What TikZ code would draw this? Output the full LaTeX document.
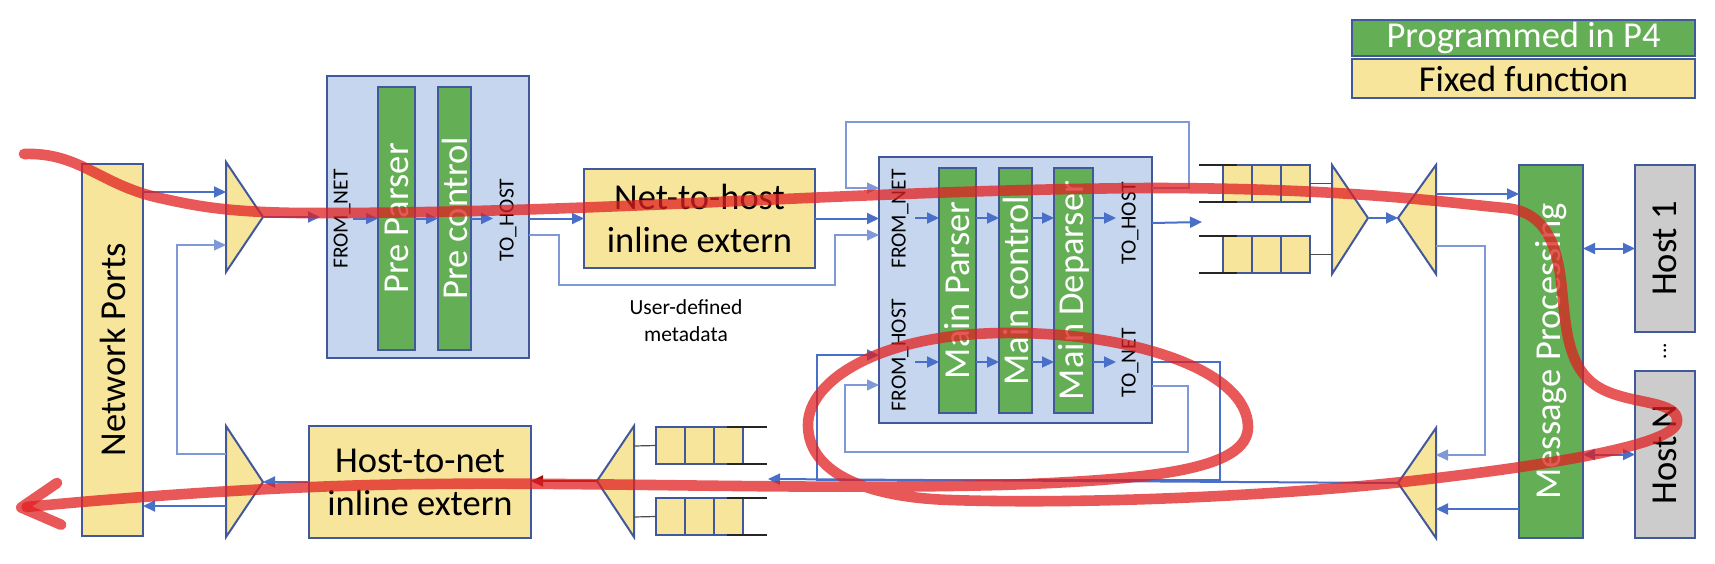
\documentclass[tikz,border=0pt]{standalone}
\usepackage{fontspec}
\setmainfont{Carlito}
\usetikzlibrary{arrows.meta,calc}
\definecolor{yel}{HTML}{F8E59C}
\definecolor{grn}{HTML}{64AE55}
\definecolor{lblue}{HTML}{C5D6EE}
\definecolor{gry}{HTML}{CCCCCC}
\definecolor{bord}{HTML}{41599B}
\definecolor{cblue}{HTML}{4A6FC8}
\definecolor{cthin}{HTML}{7F98D8}
\definecolor{redp}{HTML}{E02020}
\definecolor{dred}{HTML}{9A0E0E}
\begin{document}
\begin{tikzpicture}[x=0.5pt,y=-0.5pt,
  box/.style={draw=bord,line width=1pt,inner sep=0pt,outer sep=0pt},
  yelbox/.style={box,fill=yel},
  grnbox/.style={box,fill=grn},
  bluebox/.style={box,fill=lblue},
  graybox/.style={box,fill=gry},
  qcell/.style={yelbox,minimum width=14.5pt,minimum height=18.5pt},
  tri/.style={draw=bord,fill=yel,line width=1pt,line join=miter},
  big/.style={font=\fontsize{18.25}{21.5}\selectfont,align=center,inner sep=0pt},
  small/.style={font=\fontsize{10.75}{13.5}\selectfont,align=center,inner sep=0pt},
  wtxt/.style={big,text=white,rotate=90},
  conn/.style={draw=cblue,line width=1pt},
  thinconn/.style={draw=cthin,line width=0.6pt},
  arr/.style={-{Triangle[length=6pt,width=5.5pt]}},
  dbl/.style={{Triangle[length=6pt,width=5.5pt]}-{Triangle[length=6pt,width=5.5pt]}},
  qline/.style={draw=black!85,line width=0.7pt},
  glink/.style={draw=black!70,line width=0.6pt},
  redpath/.style={draw=redp,draw opacity=0.75,line width=5.3pt,line cap=round,line join=round},
]
\useasboundingbox (0,0) rectangle (1715,563);

% ---------- legend ----------
\node[grnbox,minimum width=171.5pt,minimum height=18pt] (leg1) at (1523.5,38) {};
\node[big,text=white] (leg1t) at (leg1) {Programmed in P4};
\node[yelbox,minimum width=171.5pt,minimum height=19.5pt] (leg2) at (1523.5,78.5) {};
\node[big] (leg2t) at (leg2) {Fixed function};

% ---------- boxes ----------
\node[yelbox,minimum width=30.5pt,minimum height=186pt] (np) at (112.5,350) {};
\node[big,rotate=90] (npt) at (np) {Network Ports};

\node[bluebox,minimum width=101pt,minimum height=141pt] (pre) at (428,217) {};
\node[grnbox,minimum width=18.5pt,minimum height=131.5pt] (preparser) at (396.5,218.5) {};
\node[grnbox,minimum width=16.5pt,minimum height=131.5pt] (precontrol) at (454.5,218.5) {};
\node[wtxt] (preparsert) at (preparser) {Pre Parser};
\node[wtxt] (precontrolt) at (precontrol) {Pre control};
\node[small,rotate=90] (prefn) at (342,219) {FROM\_NET};
\node[small,rotate=90] (preth) at (508,220) {TO\_HOST};

\node[yelbox,minimum width=115.5pt,minimum height=49.5pt] (n2h) at (699.5,218.5) {};
\node[big] (n2ht) at (n2h) {Net-to-host\\inline extern};
\node[yelbox,minimum width=111pt,minimum height=56pt] (h2n) at (420,482) {};
\node[big] (h2nt) at (h2n) {Host-to-net\\inline extern};
\node[small] (meta) at (686,321) {User-defined\\metadata};

\node[bluebox,minimum width=136.5pt,minimum height=133pt] (main) at (1015.5,290) {};
\node[grnbox,minimum width=18.5pt,minimum height=122.5pt] (mparser) at (957.5,290.5) {};
\node[grnbox,minimum width=16.5pt,minimum height=122.5pt] (mcontrol) at (1015.5,290.5) {};
\node[grnbox,minimum width=19.5pt,minimum height=122.5pt] (mdeparser) at (1073.5,290.5) {};
\node[wtxt] (mparsert) at (mparser) {Main Parser};
\node[wtxt] (mcontrolt) at (mcontrol) {Main control};
\node[wtxt] (mdeparsert) at (mdeparser) {Main Deparser};
\node[small,rotate=90] (mfn) at (900,219) {FROM\_NET};
\node[small,rotate=90] (mfh) at (900,355) {FROM\_HOST};
\node[small,rotate=90] (mth) at (1130,223) {TO\_HOST};
\node[small,rotate=90] (mtn) at (1130,363) {TO\_NET};

\node[grnbox,minimum width=32pt,minimum height=186.5pt] (mp) at (1551,351.5) {};
\node[wtxt] (mpt) at (mp) {Message Processing};
\node[graybox,minimum width=30pt,minimum height=83.5pt] (host1) at (1665,248.5) {};
\node[big,rotate=90] (host1t) at (host1) {Host 1};
\node[graybox,minimum width=30pt,minimum height=83.5pt] (hostN) at (1665,454.5) {};
\node[big,rotate=90] (hostNt) at (hostN) {Host N};
\node[small,rotate=90] (dots) at (1665,351) {...};

% ---------- queues ----------
\foreach \i in {0,1,2} {
  \node[qcell] (q1-\i) at ({1237.5+29*\i},183.5) {};
  \node[qcell] (q2-\i) at ({1237.5+29*\i},254.5) {};
  \node[qcell] (q3-\i) at ({670.5+29*\i},445.5) {};
  \node[qcell] (q4-\i) at ({670.5+29*\i},516.5) {};
}
\foreach \q in {q1,q2} {
  \draw[qline] ($(\q-0.north west)+(-24,0)$) -- ($(\q-0.north west)+(14,0)$);
  \draw[qline] ($(\q-0.south west)+(-24,0)$) -- ($(\q-0.south west)+(14,0)$);
}
\foreach \q in {q3,q4} {
  \draw[qline] ($(\q-2.north east)+(-16,0)$) -- ($(\q-2.north east)+(24,0)$);
  \draw[qline] ($(\q-2.south east)+(-16,0)$) -- ($(\q-2.south east)+(24,0)$);
}

% ---------- triangles ----------
\coordinate (t1a) at (226,162); \coordinate (t1b) at (226,272); \coordinate (t1p) at (263,217);
\coordinate (t2a) at (226,426); \coordinate (t2b) at (226,537); \coordinate (t2p) at (263,482);
\coordinate (t3a) at (634,426); \coordinate (t3b) at (634,537); \coordinate (t3p) at (597,481);
\coordinate (t4a) at (1332,165); \coordinate (t4b) at (1332,274); \coordinate (t4p) at (1368,218);
\coordinate (t5a) at (1436,165); \coordinate (t5b) at (1436,274); \coordinate (t5p) at (1398,218);
\coordinate (t6a) at (1436,428); \coordinate (t6b) at (1436,538); \coordinate (t6p) at (1398,483);
\foreach \t in {t1,t2,t3,t4,t5,t6} { \draw[tri] (\t a) -- (\t p) -- (\t b) -- cycle; }

% ---------- port coordinates ----------
\coordinate (t1i1) at (226,192);
\coordinate (t1i2) at (226,245);
\coordinate (t2o1) at (226,506);
\coordinate (t2o2) at (226,454);
\coordinate (t3o1) at (634,446);
\coordinate (t3o2) at (634,517);
\coordinate (t4i1) at (1332,183.5);
\coordinate (t4i2) at (1332,254.5);
\coordinate (t5o1) at (1436,194);
\coordinate (t5o2) at (1436,246);
\coordinate (t6i1) at (1436,455);
\coordinate (t6i2) at (1436,509);
\coordinate (qin34) at (768,479);
\coordinate (qin12) at (1202,222);
\coordinate (yu) at (0,218);
\coordinate (yl) at (0,362);

% ---------- connectors ----------
\draw[conn,arr] (np.east |- t1i1) -- (t1i1);
\draw[thinconn,arr] (t2o2) -- ++(-49,0) |- (t1i2);
\draw[conn,arr] (t2o1) -- (np.east |- t2o1);
\draw[conn,arr] (h2n.west |- t2p) -- (t2p);
\draw[dred,line width=1pt,arr] (t3p) -- (h2n.east |- t3p);
\draw[glink] (q3-0.west) -- (t3o1);
\draw[glink] (q4-0.west) -- (t3o2);
\draw[conn,arr] (t6p) -- (qin34);

\draw[conn,arr,shorten >=3.5pt] (t1p) -- (t1p -| pre.west);
\draw[conn,arr] ($(preparser.west)+(-25,0)$) -- (preparser.west);
\draw[conn,arr] (preparser.east) -- (precontrol.west);
\draw[conn,arr] (precontrol.east) -- ++(22,0);
\draw[conn,arr] (pre.east |- n2h.west) -- (n2h.west);
\draw[thinconn,arr] (pre.east |- 0,235) -- (559,235) -- (559,285) -- (835,285) -- (835,235) -- (main.west |- 0,235);
\draw[conn,arr] (n2h.east) -- (n2h.east -| main.west);
\draw[thinconn,arr] (main.east |- 0,188) -- (1189,188) -- (1189,122) -- (846,122) -- (846,188) -- (main.west |- 0,188);

\draw[conn,arr] ($(mparser.west |- yu)+(-24,0)$) -- (mparser.west |- yu);
\draw[conn,arr] (mparser.east |- yu) -- (mcontrol.west |- yu);
\draw[conn,arr] (mcontrol.east |- yu) -- (mdeparser.west |- yu);
\draw[conn,arr] (mdeparser.east |- yu) -- ++(23,0);
\draw[conn,arr] ($(mparser.west |- yl)+(-24,0)$) -- (mparser.west |- yl);
\draw[conn,arr] (mparser.east |- yl) -- (mcontrol.west |- yl);
\draw[conn,arr] (mcontrol.east |- yl) -- (mdeparser.west |- yl);
\draw[conn,arr] (mdeparser.east |- yl) -- ++(23,0);

\draw[conn,arr] (main.east |- 0,223) -- (qin12);
\draw[conn,arr] (main.east |- yl) -- (1220,362) -- (1220,480) -- (817,480) -- (817,355) -- (main.west |- 0,355);
\draw[thinconn,arr] (main.east |- 0,386) -- (1188,386) -- (1188,452) -- (845,452) -- (845,385) -- (main.west |- 0,385);

\draw[glink] (q1-2.east) -- (t4i1);
\draw[glink] (q2-2.east) -- (t4i2);
\draw[conn,arr] (t4p) -- (t5p);
\draw[conn,arr] (t5o1) -- (mp.west |- t5o1);
\draw[thinconn,arr] (t5o2) -- (1485,246) -- (1485,455) -- (t6i1);
\draw[conn,arr] (mp.west |- t6i2) -- (t6i2);
\draw[conn,dbl] (mp.east |- host1) -- (host1.west);
\draw[conn,dbl] (mp.east |- hostN) -- (hostN.west);

% ---------- red packet path ----------
\draw[redpath,-{Straight Barb[round,length=19pt,width=21pt]}]
 (24,154) .. controls (80,152) and (100,185) .. (160,198)
 .. controls (200,207) and (230,212) .. (300,213)
 .. controls (600,214) and (850,190) .. (1150,188)
 .. controls (1350,188) and (1450,203) .. (1505,208)
 .. controls (1540,211) and (1557,235) .. (1562,290)
 .. controls (1566,330) and (1568,370) .. (1600,388)
 .. controls (1630,405) and (1680,400) .. (1677,422)
 .. controls (1674,445) and (1550,465) .. (1420,480)
 .. controls (1300,494) and (1100,505) .. (950,500)
 .. controls (860,497) and (808,470) .. (808,425)
 .. controls (808,380) and (880,335) .. (1000,333)
 .. controls (1130,331) and (1248,370) .. (1248,427)
 .. controls (1248,470) and (1150,480) .. (1000,485)
 .. controls (800,490) and (600,482) .. (430,484)
 .. controls (300,485) and (150,495) .. (16,508);
\end{tikzpicture}
\end{document}
